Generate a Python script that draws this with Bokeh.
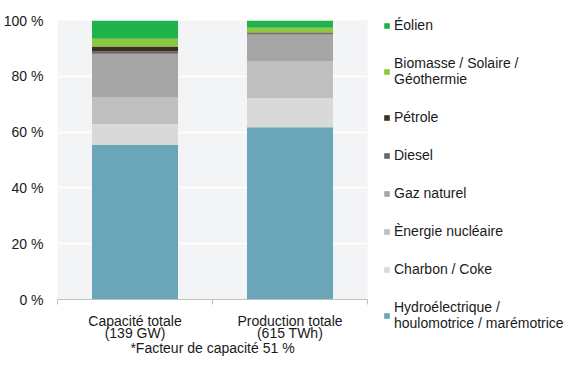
from bokeh.plotting import figure
from bokeh.models import ColumnDataSource, FixedTicker, Range1d, Legend, LegendItem
from bokeh.embed import file_html
from bokeh.resources import INLINE

# ---- data ----
categories = ["Capacité totale\n(139 GW)", "Production totale\n(615 TWh)"]
sources = ["Hydroélectrique /\nhoulomotrice / marémotrice", "Charbon / Coke",
           "Ènergie nucléaire", "Gaz naturel", "Diesel", "Pétrole",
           "Biomasse / Solaire /\nGéothermie", "Éolien"]
hydro = [55.5, 61.7]
charbon = [7.4, 10.4]
nucleaire = [9.7, 13.4]
gaz = [15.5, 9.5]
diesel = [0.9, 0.4]
petrole = [1.7, 0.3]
biomasse = [2.8, 1.7]
eolien = [6.5, 2.6]
colors = ["#6aa5b8", "#d9d9d9", "#bfbfbf", "#a6a6a6", "#666666", "#3b3024",
          "#8dc63f", "#22b24c"]
yticks = [0, 20, 40, 60, 80, 100]
footnote = "*Facteur de capacité 51 %"

FONT = "Liberation Sans"
TXT = "#1a1a1a"

keys = ["hydro", "charbon", "nucleaire", "gaz", "diesel", "petrole", "biomasse", "eolien"]
xpos = [i + 0.5 for i in range(len(categories))]
src = ColumnDataSource(dict(x=xpos, hydro=hydro, charbon=charbon, nucleaire=nucleaire,
                            gaz=gaz, diesel=diesel, petrole=petrole,
                            biomasse=biomasse, eolien=eolien))

p = figure(frame_width=310, frame_height=279, output_backend="svg", toolbar_location=None,
           x_range=Range1d(0, len(categories)), y_range=Range1d(0, 100),
           min_border_left=40, min_border_right=0, min_border_top=20,
           min_border_bottom=10)
p.background_fill_color = "#f3f4f6"
p.border_fill_color = "white"
p.outline_line_color = None

rs = p.vbar_stack(keys, x="x", width=0.555, color=colors, line_color=None, source=src)

# axes
p.xaxis.ticker = FixedTicker(ticks=xpos, minor_ticks=list(range(len(categories) + 1)))
p.xaxis.major_label_overrides = {x: c for x, c in zip(xpos, categories)}
p.xaxis.major_tick_line_color = None
p.xaxis.major_tick_out = 0
p.xaxis.major_tick_in = 0
p.xaxis.minor_tick_line_color = "#c0c0c0"
p.xaxis.minor_tick_out = 5
p.xaxis.minor_tick_in = 0
p.xaxis.axis_line_color = "#c0c0c0"
p.xaxis.major_label_text_font = FONT
p.xaxis.major_label_text_font_size = "14px"
p.xaxis.major_label_text_color = TXT
p.xaxis.major_label_text_line_height = 0.8
p.xaxis.major_label_standoff = 8
p.xaxis.axis_label = footnote
p.xaxis.axis_label_text_font = FONT
p.xaxis.axis_label_text_font_size = "14px"
p.xaxis.axis_label_text_font_style = "normal"
p.xaxis.axis_label_text_color = TXT
p.xaxis.axis_label_standoff = -4

p.yaxis.ticker = FixedTicker(ticks=yticks)
p.yaxis.major_label_overrides = {t: f"{t} %" for t in yticks}
p.yaxis.axis_line_color = None
p.yaxis.major_tick_line_color = None
p.yaxis.major_tick_out = 0
p.yaxis.major_tick_in = 0
p.yaxis.minor_tick_line_color = None
p.yaxis.minor_tick_out = 0
p.yaxis.major_label_standoff = 14
p.yaxis.major_label_text_font = FONT
p.yaxis.major_label_text_font_size = "14px"
p.yaxis.major_label_text_color = TXT

p.xgrid.grid_line_color = None
p.ygrid.grid_line_color = "white"
p.ygrid.grid_line_width = 1.5

items = [LegendItem(label=sources[k], renderers=[rs[k]]) for k in range(len(sources))][::-1]
legend = Legend(items=items, location=(16, -32), orientation="vertical",
                border_line_color=None, background_fill_alpha=0,
                glyph_width=7, glyph_height=7, label_standoff=4,
                label_text_font=FONT, label_text_font_size="14px",
                label_text_color=TXT, label_text_line_height=1.15,
                label_height=16, spacing=22, padding=0, margin=0)
p.add_layout(legend, "right")

open("out.html", "w").write(file_html(p, INLINE))
